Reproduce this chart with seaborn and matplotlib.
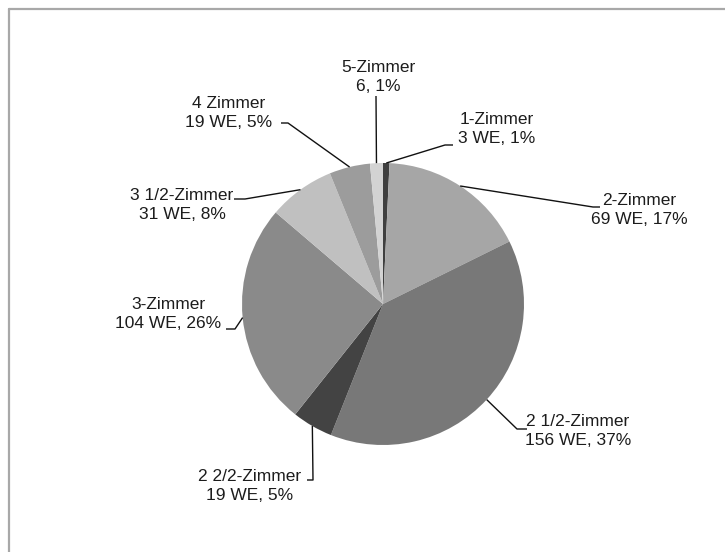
import numpy as np
import matplotlib
matplotlib.use("Agg")
import matplotlib.pyplot as plt
from matplotlib.lines import Line2D
import seaborn as sns

# Apartment mix by room count (WE = Wohneinheiten)
rooms = ["1-Zimmer", "2-Zimmer", "2 1/2-Zimmer", "2 2/2-Zimmer",
         "3-Zimmer", "3 1/2-Zimmer", "4 Zimmer", "5-Zimmer"]
units = [3, 69, 156, 19, 104, 31, 19, 6]
percent = [1, 17, 37, 5, 26, 8, 5, 1]
unit_suffix = [" WE", " WE", " WE", " WE", " WE", " WE", " WE", ""]
grays = ["#3f3f3f", "#a6a6a6", "#787878", "#434343",
         "#8a8a8a", "#c0c0c0", "#9c9c9c", "#d3d3d3"]

sns.set_theme(style="white")
plt.rcParams["font.family"] = ["Liberation Sans", "DejaVu Sans"]

W, H = 725, 552
fig = plt.figure(figsize=(W / 100, H / 100), dpi=100)
fig.patch.set_facecolor("white")

# pie centre and radius in pixels
cx, cy, r = 383, 304, 141
ax = fig.add_axes([(cx - r) / W, (H - cy - r) / H, 2 * r / W, 2 * r / H])

wedges, _ = ax.pie(units, colors=grays, startangle=90, counterclock=False,
                   radius=1, center=(0, 0), frame=False,
                   wedgeprops=dict(linewidth=0))
ax.set_xlim(-1, 1)
ax.set_ylim(-1, 1)
ax.set_aspect("auto")
ax.axis("off")


def to_data(px, py):
    return (px - cx) / r, (cy - py) / r


# label layout: text centre, leader elbow, leader end (pixels)
layout = [
    ((497, 129), (445, 145), (453, 145)),
    ((639, 210), (593, 207), (600, 207)),
    ((578, 431), (517, 429), (527, 429)),
    ((250, 486), (313, 480), (307, 480)),
    ((168, 314), (235, 329), (226, 329)),
    ((182, 205), (245, 199), (234, 199)),
    ((229, 113), (288, 123), (281, 123)),
    ((378, 77), (376, 96), (376, 96)),
]

text_color = "#1c1c1c"
for w, name, n, p, suf, (tc, elbow, end) in zip(
        wedges, rooms, units, percent, unit_suffix, layout):
    mid = np.deg2rad((w.theta1 + w.theta2) / 2)
    ax0 = (np.cos(mid), np.sin(mid))
    ex, ey = to_data(*elbow)
    nx, ny = to_data(*end)
    ax.plot([ax0[0], ex, nx], [ax0[1], ey, ny], color="#111111",
            lw=1.0, clip_on=False, solid_capstyle="butt")
    tx, ty = to_data(*tc)
    ax.text(tx, ty, f"{name}\n{n}{suf}, {p}%", ha="center", va="center",
            multialignment="center", fontsize=12.5, color=text_color,
            linespacing=1.27, clip_on=False)

# chart frame
frame_kw = dict(color="#a8a8a8", lw=1.6, transform=None)
fig.add_artist(Line2D([9, W], [H - 9, H - 9], **frame_kw))
fig.add_artist(Line2D([9, 9], [0, H - 9], **frame_kw))

fig.savefig("out.png", dpi=100, facecolor="white")
